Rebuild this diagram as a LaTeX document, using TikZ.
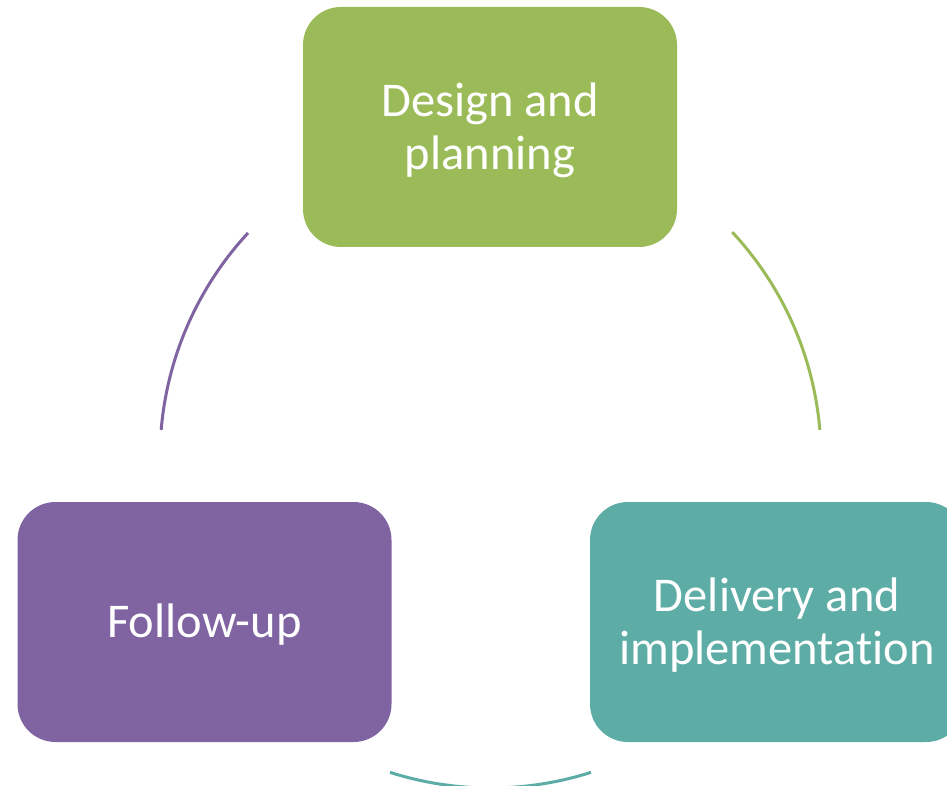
\documentclass[tikz,border=0pt]{standalone}
\usepackage{fontspec}
\setmainfont{Carlito}[Ligatures=NoCommon]
\definecolor{cgreen}{HTML}{9BBB59}
\definecolor{cteal}{HTML}{5DADA6}
\definecolor{cpurple}{HTML}{8064A2}
\tikzset{
  stagebox/.style={rounded corners=38pt, minimum width=374pt, minimum height=240pt,
    inner sep=0pt},
  stagetext/.style={inner sep=0pt, text=white, align=center,
    font=\fontsize{48.5}{53}\selectfont},
  cyclearc/.style={line width=3pt}
}
\begin{document}
\begin{tikzpicture}[x=1pt,y=-1pt]
\clip (0,0) rectangle (947,786);
\fill[white] (0,0) rectangle (947,786);
\node[stagebox, fill=cgreen] (design) at (490,127) {};
\node[stagebox, fill=cteal] (delivery) at (777,622) {};
\node[stagebox, fill=cpurple] (follow) at (204.5,622) {};
\node[stagetext] (designtext) at ([yshift=-3pt]design.center) {Design and\\planning};
\node[stagetext] (deliverytext) at ([yshift=-3pt]delivery.center) {Delivery and\\implementation};
\node[stagetext] (followtext) at ([yshift=-3pt]follow.center) {Follow-up};
\begin{scope}[shift={(490.5,457.5)},x=1pt,y=1pt]
\coordinate (ga) at (43:330.5);
\coordinate (gb) at (4.8:330.5);
\coordinate (ta) at (-72.3:330.5);
\coordinate (tb) at (-107.7:330.5);
\coordinate (pa) at (175.2:330.5);
\coordinate (pb) at (137.2:330.5);
\draw[cyclearc, cgreen] (ga) arc[start angle=43, end angle=4.8, radius=330.5];
\draw[cyclearc, cteal] (ta) arc[start angle=-72.3, end angle=-107.7, radius=330.5];
\draw[cyclearc, cpurple] (pa) arc[start angle=175.2, end angle=137.2, radius=330.5];
\end{scope}
\end{tikzpicture}
\end{document}
